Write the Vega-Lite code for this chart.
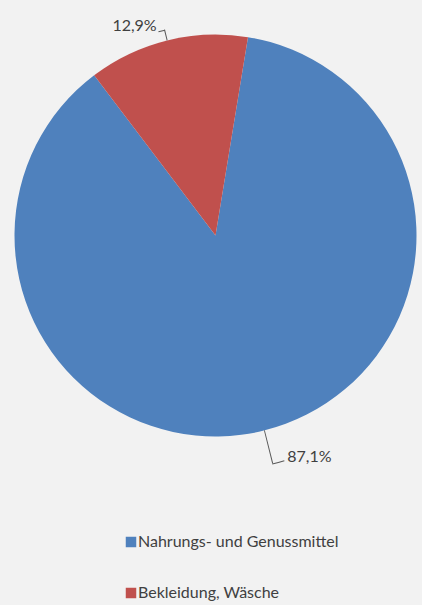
{
  "$schema": "https://vega.github.io/schema/vega-lite/v6.json",
  "width": 413,
  "height": 471,
  "padding": {"left": 9, "right": 0, "top": 0, "bottom": 134},
  "autosize": {"type": "none"},
  "background": "#f2f2f2",
  "config": {"view": {"stroke": null}, "font": "Lato"},
  "data": {
    "values": [
      {"category": "Nahrungs- und Genussmittel", "value": 87.1, "label": "87,1%"},
      {"category": "Bekleidung, Wäsche", "value": 12.9, "label": "12,9%"}
    ]
  },
  "transform": [
    {"stack": "value", "groupby": [], "sort": [{"field": "value", "order": "descending"}], "as": ["v0", "v1"]}
  ],
  "layer": [
    {
      "mark": {"type": "arc", "radius": 201},
      "encoding": {
        "theta": {"field": "v0", "type": "quantitative", "scale": {"domain": [0, 100], "range": [0.1623, 6.4455], "zero": true}},
        "theta2": {"field": "v1"},
        "color": {
          "field": "category", "type": "nominal",
          "scale": {"domain": ["Nahrungs- und Genussmittel", "Bekleidung, Wäsche"], "range": ["#4f81bd", "#c0504d"]},
          "legend": {
            "orient": "none", "legendX": 114, "legendY": 534, "direction": "vertical",
            "title": null, "symbolType": "square", "symbolSize": 110, "symbolStrokeWidth": 0,
            "labelFont": "Lato", "labelFontSize": 16, "labelColor": "#404040", "labelLimit": 0,
            "labelOffset": -1, "rowPadding": 35, "padding": 0
          }
        }
      }
    },
    {
      "mark": {"type": "arc", "radius": 212, "radius2": 201, "thetaOffset": 0.40277, "theta2Offset": -0.40277, "fill": "#595959"},
      "encoding": {
        "theta": {"field": "v0", "type": "quantitative"},
        "theta2": {"field": "v1"},
        "opacity": {"condition": {"test": "datum.category === 'Bekleidung, Wäsche'", "value": 1}, "value": 0}
      }
    },
    {
      "mark": {"type": "arc", "radius": 212, "radius2": 211, "thetaOffset": 0.3752, "theta2Offset": -0.4039, "fill": "#595959"},
      "encoding": {
        "theta": {"field": "v0", "type": "quantitative"},
        "theta2": {"field": "v1"},
        "opacity": {"condition": {"test": "datum.category === 'Bekleidung, Wäsche'", "value": 1}, "value": 0}
      }
    },
    {
      "mark": {"type": "arc", "radius": 235, "radius2": 201, "thetaOffset": 2.7314, "theta2Offset": -2.73685, "fill": "#595959"},
      "encoding": {
        "theta": {"field": "v0", "type": "quantitative"},
        "theta2": {"field": "v1"},
        "opacity": {"condition": {"test": "datum.category === 'Nahrungs- und Genussmittel'", "value": 1}, "value": 0}
      }
    },
    {
      "mark": {"type": "arc", "radius": 236, "radius2": 235, "thetaOffset": 2.6826, "theta2Offset": -2.73685, "fill": "#595959"},
      "encoding": {
        "theta": {"field": "v0", "type": "quantitative"},
        "theta2": {"field": "v1"},
        "opacity": {"condition": {"test": "datum.category === 'Nahrungs- und Genussmittel'", "value": 1}, "value": 0}
      }
    },
    {
      "mark": {"type": "text", "radius": 216, "dx": -29, "font": "Lato", "fontSize": 16, "color": "#404040", "align": "center", "baseline": "middle"},
      "encoding": {
        "theta": {"field": "value", "type": "quantitative", "stack": true},
        "order": {"field": "value", "sort": "descending"},
        "text": {"condition": {"test": "datum.category === 'Bekleidung, Wäsche'", "field": "label"}, "value": ""}
      }
    },
    {
      "mark": {"type": "text", "radius": 228, "dx": 39, "font": "Lato", "fontSize": 16, "color": "#404040", "align": "center", "baseline": "middle"},
      "encoding": {
        "theta": {"field": "value", "type": "quantitative", "stack": true},
        "order": {"field": "value", "sort": "descending"},
        "text": {"condition": {"test": "datum.category === 'Nahrungs- und Genussmittel'", "field": "label"}, "value": ""}
      }
    }
  ]
}
